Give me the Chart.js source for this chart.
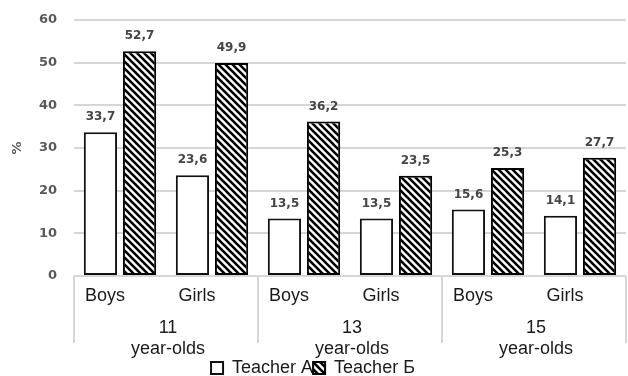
<!DOCTYPE html>
<html>
<head>
<meta charset="utf-8">
<script src="https://cdn.jsdelivr.net/npm/chart.js@4.4.1/dist/chart.umd.min.js"></script>
<style>
  html, body { margin: 0; padding: 0; background: #fff; }
  canvas { display: block; }
</style>
</head>
<body>
<canvas id="chart" width="628" height="376"></canvas>
<script>
const categories = ['Boys', 'Girls', 'Boys', 'Girls', 'Boys', 'Girls'];
const ageGroups = [['11', 'year-olds'], ['13', 'year-olds'], ['15', 'year-olds']];
const teacherA = [33.7, 23.6, 13.5, 13.5, 15.6, 14.1];
const teacherB = [52.7, 49.9, 36.2, 23.5, 25.3, 27.7];
const yTicks = [0, 10, 20, 30, 40, 50, 60];

// diagonal "\\" hatching for the second series
function makeHatch() {
    const size = 7;
    const c = document.createElement('canvas');
    c.width = size;
    c.height = size;
    const g = c.getContext('2d');
    g.fillStyle = '#fff';
    g.fillRect(0, 0, size, size);
    g.strokeStyle = '#000';
    g.lineWidth = 2.6;
    g.beginPath();
    for (let k = -size; k <= size; k += size) {
        g.moveTo(k - 1, -1);
        g.lineTo(k + size + 1, size + 1);
    }
    g.stroke();
    return g.createPattern(c, 'repeat');
}

const hatch = makeHatch();
const gridColor = '#d6d6d6';

// value labels above each bar, with a decimal comma
const valueLabels = {
    id: 'valueLabels',
    afterDatasetsDraw(chart) {
        const ctx = chart.ctx;
        ctx.save();
        ctx.font = 'bold 12px "DejaVu Sans"';
        ctx.fillStyle = '#454545';
        ctx.textAlign = 'center';
        ctx.textBaseline = 'bottom';
        chart.data.datasets.forEach((ds, i) => {
            chart.getDatasetMeta(i).data.forEach((bar, j) => {
                const txt = ds.data[j].toFixed(1).replace('.', ',');
                ctx.fillText(txt, bar.x, bar.y - 9);
            });
        });
        ctx.restore();
    }
};

// separators between the age groups under the axis
const groupLines = {
    id: 'groupLines',
    afterDraw(chart) {
        const x2 = chart.scales.x2;
        const top = chart.chartArea.bottom;
        const ctx = chart.ctx;
        ctx.save();
        ctx.strokeStyle = gridColor;
        ctx.lineWidth = 2;
        ctx.beginPath();
        for (let i = 0; i <= ageGroups.length; i++) {
            const x = Math.round(x2.getPixelForValue(i - 0.5));
            ctx.moveTo(x, top);
            ctx.lineTo(x, top + 67);
        }
        ctx.stroke();
        ctx.restore();
    }
};

new Chart(document.getElementById('chart'), {
    type: 'bar',
    data: {
        labels: categories,
        datasets: [
            {
                label: 'Teacher A',
                data: teacherA,
                backgroundColor: '#fff',
                borderColor: '#111',
                borderWidth: 2,
                borderSkipped: false,
                categoryPercentage: 0.85,
                barPercentage: 0.85
            },
            {
                label: 'Teacher Б',
                data: teacherB,
                backgroundColor: hatch,
                borderColor: '#000',
                borderWidth: 2,
                borderSkipped: false,
                categoryPercentage: 0.85,
                barPercentage: 0.85
            }
        ]
    },
    options: {
        responsive: false,
        animation: false,
        layout: { padding: { top: 20, right: 2, left: 0, bottom: 0 } },
        plugins: {
            legend: {
                position: 'bottom',
                maxHeight: 17,
                labels: {
                    color: '#1a1a1a',
                    font: { family: '"Liberation Sans"', size: 18 },
                    boxWidth: 12,
                    boxHeight: 12,
                    padding: 0
                }
            },
            tooltip: { enabled: false }
        },
        scales: {
            y: {
                min: 0,
                max: 60,
                afterBuildTicks: (s) => { s.ticks = yTicks.map(v => ({ value: v })); },
                afterFit: (s) => {
                    s.width = 74;
                    s.paddingTop = 0;
                    s.paddingBottom = 0;
                },
                border: { display: false },
                grid: { color: gridColor, lineWidth: 2, drawTicks: false },
                ticks: {
                    padding: 17,
                    color: '#595959',
                    font: { family: '"DejaVu Sans"', size: 13, weight: 'bold' }
                },
                title: {
                    display: true,
                    text: '%',
                    color: '#595959',
                    font: { family: '"DejaVu Sans"', size: 13, weight: 'bold' },
                    padding: { top: 10, bottom: 0 }
                }
            },
            x: {
                afterFit: (s) => { s.height = 31; },
                border: { display: false },
                grid: { display: false, drawTicks: false },
                ticks: {
                    padding: 9,
                    labelOffset: -15,
                    color: '#1a1a1a',
                    font: { family: '"Liberation Sans"', size: 18 }
                }
            },
            x2: {
                type: 'category',
                position: 'bottom',
                labels: ageGroups,
                offset: true,
                afterFit: (s) => { s.height = 52; },
                border: { display: false },
                grid: { display: false, drawTicks: false },
                ticks: {
                    padding: 11,
                    labelOffset: 2,
                    color: '#1a1a1a',
                    font: { family: '"Liberation Sans"', size: 18, lineHeight: '21px' }
                }
            }
        }
    },
    plugins: [valueLabels, groupLines]
});
</script>
</body>
</html>
